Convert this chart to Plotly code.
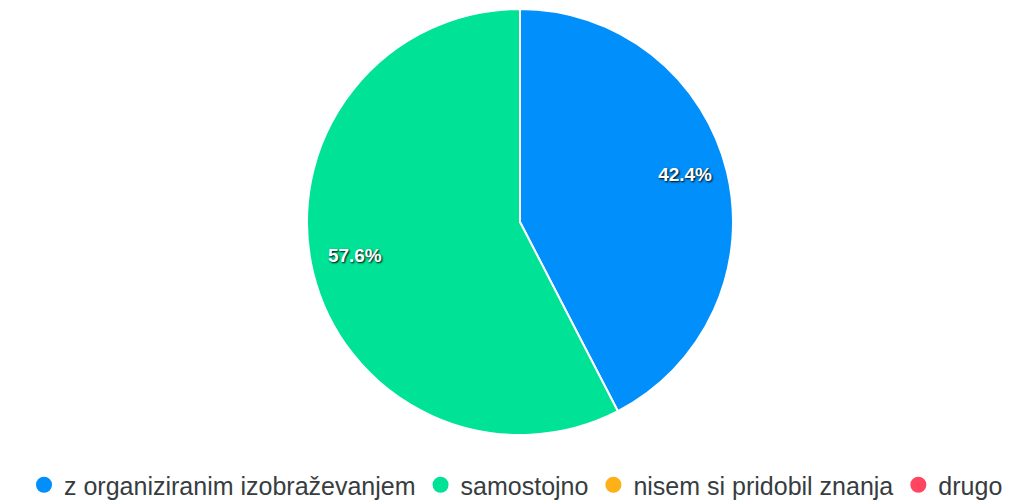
import plotly.graph_objects as go

labels = ["z organiziranim izobraževanjem", "samostojno", "nisem si pridobil znanja", "drugo"]
values = [42.4, 57.6, 0, 0]
colors = ["#008FFB", "#00E396", "#FEB019", "#FF4560"]

W, H = 1016, 503
cx, cy, r = 512, 214, 213  # figure pixel coords (page has 8px body margin)
dom = dict(x=[(cx - r) / W, (cx + r) / W], y=[(H - cy - r) / H, (H - cy + r) / H])
lift = 7  # labels sit slightly above the slice mid-line
dom_txt = dict(x=dom["x"], y=[(H - cy - r + 2 * lift) / H, (H - cy + r) / H])

fig = go.Figure()
# filled pie (no text)
fig.add_trace(go.Pie(
    labels=labels, values=values, sort=False, direction="clockwise", rotation=0,
    marker=dict(colors=colors, line=dict(color="white", width=2)),
    textinfo="none", showlegend=False, hoverinfo="label+percent", domain=dom,
))
# transparent ring overlay carrying the percentage labels further out
fig.add_trace(go.Pie(
    labels=labels, values=values, sort=False, direction="clockwise", rotation=0, hole=0.65,
    marker=dict(colors=["rgba(0,0,0,0)"] * len(labels), line=dict(width=0)),
    texttemplate="%{percent:.1%}", textposition="inside", insidetextorientation="horizontal",
    textfont=dict(family="Liberation Sans", size=19, color="white", weight="bold",
                  shadow="1px 1px 2px #000"),
    showlegend=False, hoverinfo="skip", domain=dom_txt,
))
for lab, col in zip(labels, colors):
    fig.add_trace(go.Scatter(x=[None], y=[None], mode="markers", name=lab,
                             marker=dict(symbol="circle", size=16, color=col)))

fig.update_layout(
    width=W, height=H, margin=dict(l=0, r=0, t=0, b=0),
    paper_bgcolor="white", plot_bgcolor="white",
    xaxis=dict(visible=False), yaxis=dict(visible=False),
    legend=dict(orientation="h", x=0.5, xanchor="center", y=(H - 477) / H, yanchor="middle",
                font=dict(family="Liberation Sans", size=25, color="#373d3f"),
                itemsizing="trace", itemwidth=30, tracegroupgap=0),
)
fig.write_html("out.html")
